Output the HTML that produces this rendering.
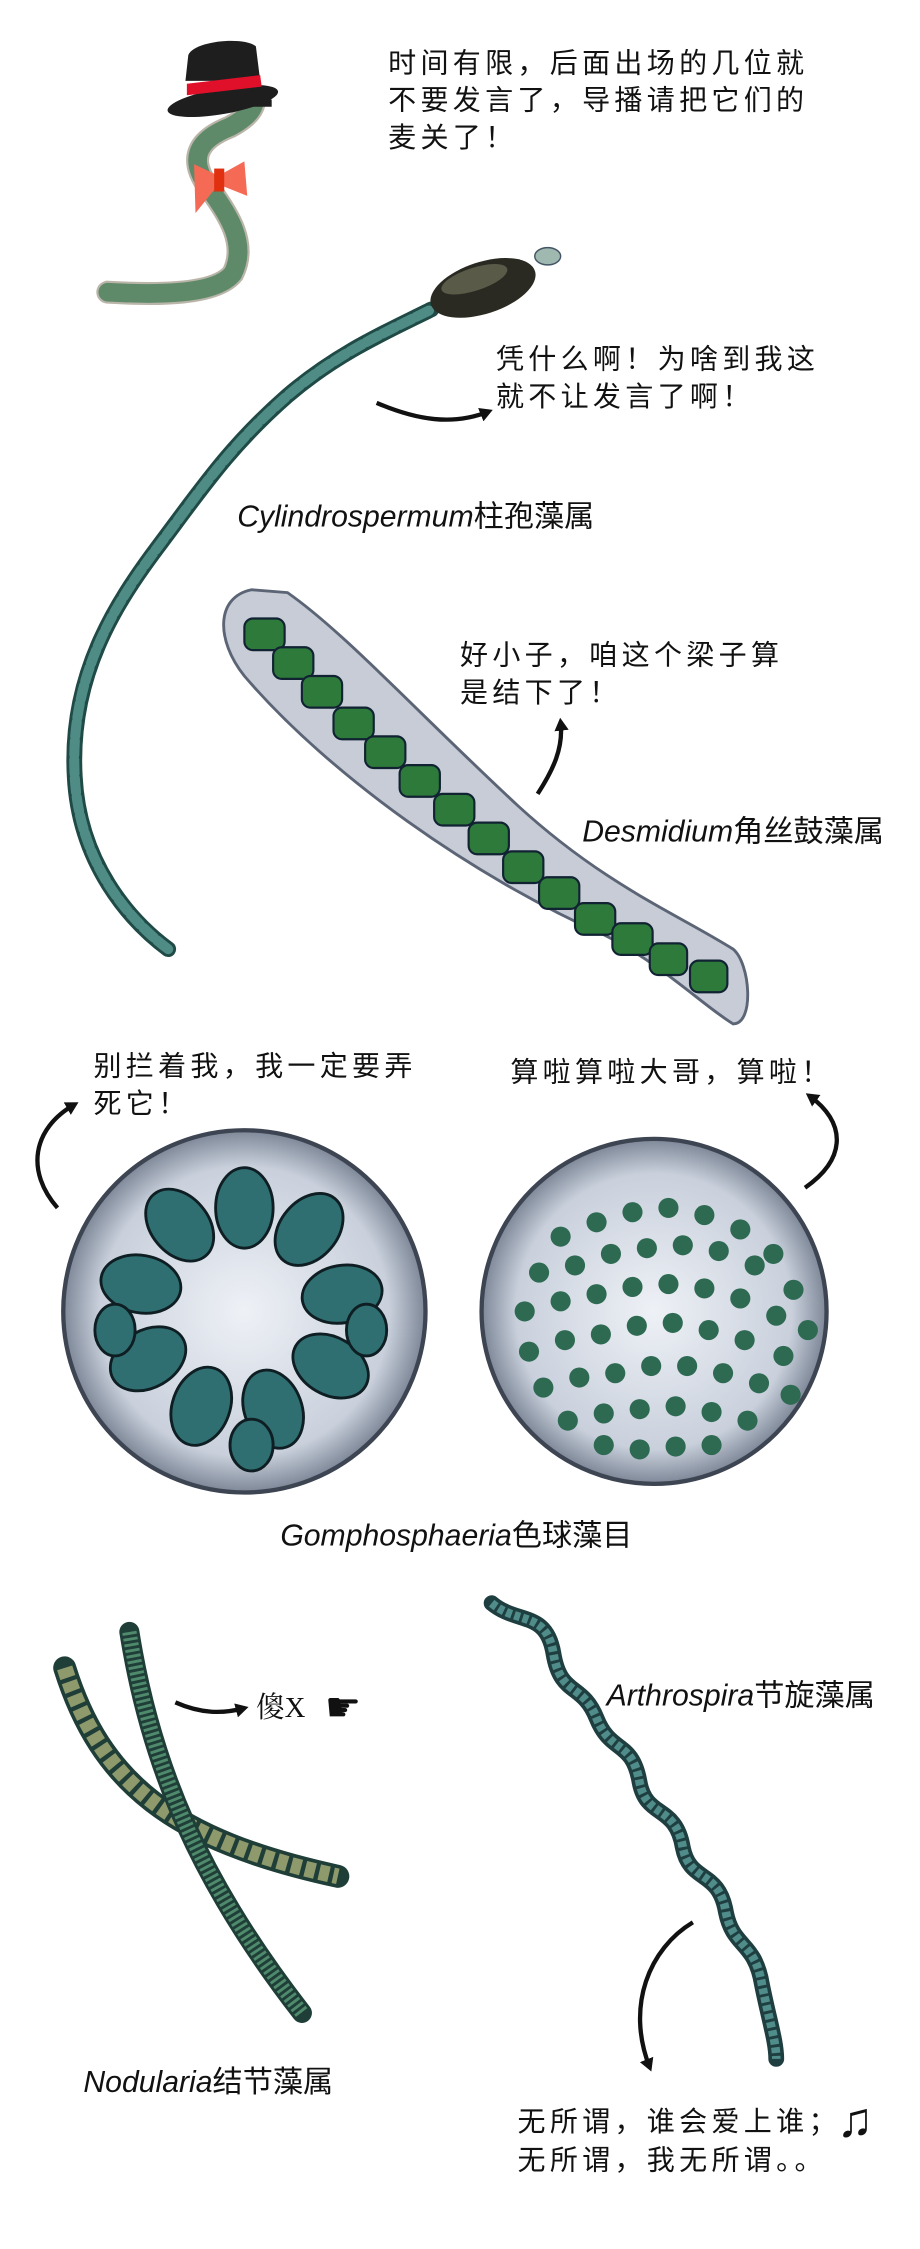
<!DOCTYPE html>
<html><head><meta charset="utf-8"><style>
html,body{margin:0;padding:0;background:#fff}
svg{display:block}
text{font-family:"Liberation Sans","Noto Sans CJK SC",sans-serif;fill:#111}
.cn{font-size:19.5px;letter-spacing:3px}
.lb{font-size:21px}
</style></head><body>
<svg width="920" height="2249" viewBox="0 0 640 1564" xmlns="http://www.w3.org/2000/svg">
<defs>
<marker id="ah" markerWidth="10" markerHeight="10" refX="6" refY="5" orient="auto" markerUnits="userSpaceOnUse"><path d="M0,0 L9,5 L0,10 Z" fill="#111"/></marker>
<radialGradient id="cg" cx="50%" cy="50%" r="50%"><stop offset="0" stop-color="#eef1f6"/><stop offset="0.8" stop-color="#c9d0dc"/><stop offset="1" stop-color="#7d8797"/></radialGradient>
</defs>

<text class="cn" x="270" y="50">时间有限，后面出场的几位就</text>
<text class="cn" x="270" y="76">不要发言了，导播请把它们的</text>
<text class="cn" x="270" y="102">麦关了！</text>

<path d="M75,203 C110,205 150,205 162,190 C172,170 160,150 145,130 C132,112 135,98 160,88 C175,80 180,72 175,63" fill="none" stroke="#b9b5a8" stroke-width="16" stroke-linecap="round"/>
<path d="M75,203 C110,205 150,205 162,190 C172,170 160,150 145,130 C132,112 135,98 160,88 C175,80 180,72 175,63" fill="none" stroke="#5f8a6a" stroke-width="13" stroke-linecap="round"/>
<path d="M129,56 L131,38 C135,28 170,25 178,32 L181,56 Z" fill="#1e1e1e"/>
<rect x="129" y="69" width="60" height="5" fill="#1e1e1e"/>
<ellipse cx="155" cy="70" rx="39" ry="9" fill="#1e1e1e" transform="rotate(-10 155 70)"/>
<path d="M130,58 L181,52 L182,60 L130,66 Z" fill="#e0102a"/>
<path d="M135,114 L152,122 L170,112 L172,136 L152,128 L136,148 Z" fill="#f56a55"/>
<rect x="149" y="117" width="7" height="16" fill="#e03010"/>

<path d="M117,660 C90,640 55,600 52,540 C48,470 80,420 110,380 C140,340 160,310 200,275 C235,245 270,230 300,215" fill="none" stroke="#1f4a46" stroke-width="11" stroke-linecap="round"/>
<path d="M117,660 C90,640 55,600 52,540 C48,470 80,420 110,380 C140,340 160,310 200,275 C235,245 270,230 300,215" fill="none" stroke="#4f8c86" stroke-width="7" stroke-dasharray="10 3" stroke-linecap="round"/>
<ellipse cx="336" cy="200" rx="38" ry="18" fill="#2a2a22" transform="rotate(-18 336 200)"/>
<ellipse cx="330" cy="194" rx="24" ry="8" fill="#5a5a48" transform="rotate(-18 330 194)"/>
<ellipse cx="381" cy="178" rx="9" ry="6" fill="#9fb8b0" stroke="#456" stroke-width="1"/>
<text class="cn" x="345" y="256">凭什么啊！为啥到我这</text>
<text class="cn" x="345" y="282">就不让发言了啊！</text>
<path d="M262,280 C290,292 315,296 340,286" fill="none" stroke="#111" stroke-width="3" marker-end="url(#ah)"/>
<text class="lb" x="165" y="366"><tspan font-style="italic">Cylindrospermum</tspan>柱孢藻属</text>

<path d="M175,410 C150,415 150,445 170,470 C230,540 330,610 420,650 C460,670 490,700 510,712 C525,712 522,670 510,660 C470,635 420,615 360,560 C290,495 240,440 200,412 Z" fill="#c7ccd6" stroke="#5c6576" stroke-width="2"/>
<g fill="#2e7a3a" stroke="#123" stroke-width="1.5">
<rect x="170" y="430" width="28" height="22" rx="6"/>
<rect x="190" y="450" width="28" height="22" rx="6"/>
<rect x="210" y="470" width="28" height="22" rx="6"/>
<rect x="232" y="492" width="28" height="22" rx="6"/>
<rect x="254" y="512" width="28" height="22" rx="6"/>
<rect x="278" y="532" width="28" height="22" rx="6"/>
<rect x="302" y="552" width="28" height="22" rx="6"/>
<rect x="326" y="572" width="28" height="22" rx="6"/>
<rect x="350" y="592" width="28" height="22" rx="6"/>
<rect x="375" y="610" width="28" height="22" rx="6"/>
<rect x="400" y="628" width="28" height="22" rx="6"/>
<rect x="426" y="642" width="28" height="22" rx="6"/>
<rect x="452" y="656" width="26" height="22" rx="6"/>
<rect x="480" y="668" width="26" height="22" rx="6"/>
</g>
<text class="cn" x="320" y="462">好小子，咱这个梁子算</text>
<text class="cn" x="320" y="488">是结下了！</text>
<path d="M374,552 C385,535 392,520 390,502" fill="none" stroke="#111" stroke-width="3" marker-end="url(#ah)"/>
<text class="lb" x="405" y="585"><tspan font-style="italic">Desmidium</tspan>角丝鼓藻属</text>

<text class="cn" x="65" y="748">别拦着我，我一定要弄</text>
<text class="cn" x="65" y="774">死它！</text>
<path d="M40,840 C18,815 22,785 52,768" fill="none" stroke="#111" stroke-width="3" marker-end="url(#ah)"/>
<text class="cn" x="355" y="752">算啦算啦大哥，算啦！</text>
<path d="M560,826 C590,805 588,780 563,762" fill="none" stroke="#111" stroke-width="3" marker-end="url(#ah)"/>
<circle cx="170" cy="912" r="126" fill="url(#cg)" stroke="#3d4452" stroke-width="3"/>
<g fill="#2f6f72" stroke="#0e1e22" stroke-width="2">
<ellipse cx="170" cy="840" rx="20" ry="28"/>
<ellipse cx="215" cy="855" rx="20" ry="28" transform="rotate(40 215 855)"/>
<ellipse cx="238" cy="900" rx="20" ry="28" transform="rotate(80 238 900)"/>
<ellipse cx="230" cy="950" rx="20" ry="28" transform="rotate(120 230 950)"/>
<ellipse cx="190" cy="980" rx="20" ry="28" transform="rotate(160 190 980)"/>
<ellipse cx="140" cy="978" rx="20" ry="28" transform="rotate(200 140 978)"/>
<ellipse cx="103" cy="945" rx="20" ry="28" transform="rotate(240 103 945)"/>
<ellipse cx="98" cy="893" rx="20" ry="28" transform="rotate(280 98 893)"/>
<ellipse cx="125" cy="852" rx="20" ry="28" transform="rotate(320 125 852)"/>
<ellipse cx="175" cy="1005" rx="15" ry="18"/>
<ellipse cx="80" cy="925" rx="14" ry="18"/>
<ellipse cx="255" cy="925" rx="14" ry="18"/>
</g>
<circle cx="455" cy="912" r="120" fill="url(#cg)" stroke="#3d4452" stroke-width="3"/>
<g fill="#2e6a52">
<circle cx="390" cy="860" r="7"/><circle cx="415" cy="850" r="7"/><circle cx="440" cy="843" r="7"/><circle cx="465" cy="840" r="7"/><circle cx="490" cy="845" r="7"/><circle cx="515" cy="855" r="7"/><circle cx="538" cy="872" r="7"/>
<circle cx="375" cy="885" r="7"/><circle cx="400" cy="880" r="7"/><circle cx="425" cy="872" r="7"/><circle cx="450" cy="868" r="7"/><circle cx="475" cy="866" r="7"/><circle cx="500" cy="870" r="7"/><circle cx="525" cy="880" r="7"/><circle cx="552" cy="897" r="7"/>
<circle cx="365" cy="912" r="7"/><circle cx="390" cy="905" r="7"/><circle cx="415" cy="900" r="7"/><circle cx="440" cy="895" r="7"/><circle cx="465" cy="893" r="7"/><circle cx="490" cy="896" r="7"/><circle cx="515" cy="903" r="7"/><circle cx="540" cy="915" r="7"/><circle cx="562" cy="925" r="7"/>
<circle cx="368" cy="940" r="7"/><circle cx="393" cy="932" r="7"/><circle cx="418" cy="928" r="7"/><circle cx="443" cy="922" r="7"/><circle cx="468" cy="920" r="7"/><circle cx="493" cy="925" r="7"/><circle cx="518" cy="932" r="7"/><circle cx="545" cy="943" r="7"/>
<circle cx="378" cy="965" r="7"/><circle cx="403" cy="958" r="7"/><circle cx="428" cy="955" r="7"/><circle cx="453" cy="950" r="7"/><circle cx="478" cy="950" r="7"/><circle cx="503" cy="955" r="7"/><circle cx="528" cy="962" r="7"/><circle cx="550" cy="970" r="7"/>
<circle cx="395" cy="988" r="7"/><circle cx="420" cy="983" r="7"/><circle cx="445" cy="980" r="7"/><circle cx="470" cy="978" r="7"/><circle cx="495" cy="982" r="7"/><circle cx="520" cy="988" r="7"/>
<circle cx="420" cy="1005" r="7"/><circle cx="445" cy="1008" r="7"/><circle cx="470" cy="1006" r="7"/><circle cx="495" cy="1005" r="7"/>
</g>
<text class="lb" x="195" y="1075"><tspan font-style="italic">Gomphosphaeria</tspan>色球藻目</text>

<path d="M45,1160 C70,1240 120,1280 235,1305" fill="none" stroke="#1f3e38" stroke-width="16" stroke-linecap="round"/>
<path d="M45,1160 C70,1240 120,1280 235,1305" fill="none" stroke="#8e9a6c" stroke-width="11" stroke-dasharray="7 3"/>
<path d="M90,1135 C105,1230 140,1310 210,1400" fill="none" stroke="#1f3e38" stroke-width="14" stroke-linecap="round"/>
<path d="M90,1135 C105,1230 140,1310 210,1400" fill="none" stroke="#4f8a6c" stroke-width="10" stroke-dasharray="2 2"/>
<path d="M122,1184 C140,1192 155,1192 170,1188" fill="none" stroke="#111" stroke-width="3" marker-end="url(#ah)"/>
<text x="178" y="1194" style="font-family:'Liberation Serif','Noto Serif CJK SC',serif;font-size:20px">傻X</text>
<text x="226" y="1197" style="font-size:28px">☛</text>
<text class="lb" x="58" y="1455"><tspan font-style="italic">Nodularia</tspan>结节藻属</text>

<path d="M342,1115 C360,1130 380,1120 385,1150 C390,1180 405,1170 415,1195 C425,1220 440,1210 445,1240 C450,1265 470,1255 475,1285 C480,1310 500,1300 505,1330 C510,1355 525,1350 530,1380 C535,1405 540,1420 540,1432" fill="none" stroke="#1f3e40" stroke-width="11" stroke-linecap="round"/>
<path d="M342,1115 C360,1130 380,1120 385,1150 C390,1180 405,1170 415,1195 C425,1220 440,1210 445,1240 C450,1265 470,1255 475,1285 C480,1310 500,1300 505,1330 C510,1355 525,1350 530,1380 C535,1405 540,1420 540,1432" fill="none" stroke="#4f8c8a" stroke-width="6" stroke-dasharray="4 2"/>
<text class="lb" x="422" y="1186"><tspan font-style="italic">Arthrospira</tspan>节旋藻属</text>
<path d="M482,1337 C452,1355 435,1395 452,1438" fill="none" stroke="#111" stroke-width="3" marker-end="url(#ah)"/>
<text class="cn" x="360" y="1482">无所谓，谁会爱上谁；</text>
<text x="582" y="1486" style="font-size:34px;font-weight:bold">♫</text>
<text class="cn" x="360" y="1509">无所谓，我无所谓。。</text>
</svg>
</body></html>
